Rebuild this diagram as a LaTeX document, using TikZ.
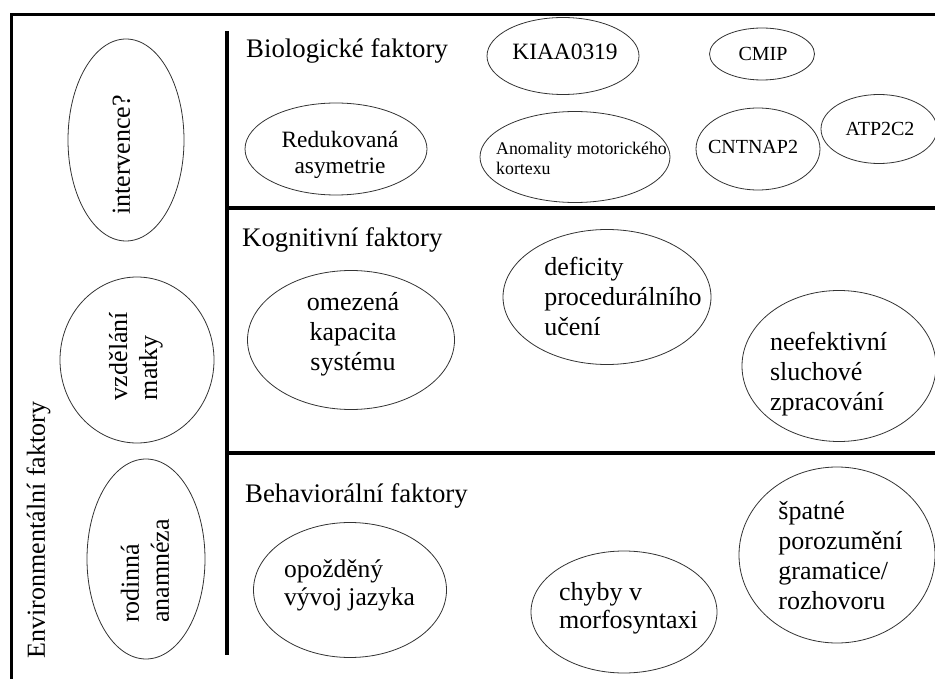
\documentclass[tikz,border=0pt]{standalone}
\usepackage{fontspec}
\setmainfont{Liberation Serif}
\usetikzlibrary{shapes.geometric, positioning}

\begin{document}
\begin{tikzpicture}[
    x=1pt, y=-1pt,
    oval/.style={ellipse, draw=black!80, line width=0.8pt, inner sep=0pt},
    txt/.style={inner sep=0pt, align=center, font=\fontsize{26}{30}\selectfont},
    small/.style={inner sep=0pt, align=center, font=\fontsize{23.4}{26}\selectfont},
    tiny/.style={inner sep=0pt, align=left, font=\fontsize{20}{22}\selectfont},
    head/.style={inner sep=0pt, anchor=base west, font=\fontsize{26.8}{30}\selectfont},
    frame/.style={line width=3pt},
    divider/.style={line width=4.5pt}
]
\useasboundingbox (0,0) rectangle (935,679);

% === Frame ===
\coordinate (corner) at (11,15);
\draw[frame] (11,679) -- (corner) -- (935,15);
\draw[divider] (227,31) -- (227,655);
\draw[divider] (227,208) -- (935,208);
\draw[divider] (227,453) -- (935,453);

% === Environmental factors (left) ===
\node[txt, rotate=90, anchor=base] (env) at (45,530) {Environmentální faktory};

\node[oval, minimum width=116, minimum height=202] (interv) at (126,140) {};
\node[txt, rotate=90] (interv-t) at (121.5,155) {intervence?};

\node[oval, minimum width=154, minimum height=166] (matka) at (137,360) {};
\node[txt, rotate=90, align=left] (matka-t) at (136,356) {vzdělání\\matky};

\node[oval, minimum width=118, minimum height=200] (rodina) at (146,559) {};
\node[txt, rotate=90, align=left] (rodina-t) at (145,571) {rodinná\\anamnéza};

% === Biological factors ===
\node[head] (bio) at (246,58) {Biologické faktory};

\node[oval, minimum width=182, minimum height=92] (asym) at (336,149) {};
\node[small] (asym-t) at (340,154.5) {Redukovaná\\asymetrie};

\node[oval, minimum width=152, minimum height=77] (kiaa) at (563,56) {};
\node[small] (kiaa-t) at (565,52) {KIAA0319};

\node[oval, minimum width=105, minimum height=52] (cmip) at (762,54) {};
\node[tiny] (cmip-t) at (763,54) {CMIP};

\node[oval, minimum width=190, minimum height=91] (motor) at (575,157) {};
\node[inner sep=0pt, align=left, font=\fontsize{17.8}{20}\selectfont] (motor-t) at (581.5,158.5) {Anomality motorického\\kortexu};

\node[oval, minimum width=124, minimum height=82] (cntnap) at (758,149) {};
\node[tiny] (cntnap-t) at (753,147) {CNTNAP2};

\node[oval, minimum width=116, minimum height=69] (atp) at (879,129) {};
\node[tiny] (atp-t) at (880,128.5) {ATP2C2};

% === Cognitive factors ===
\node[head] (kog) at (242,247) {Kognitivní faktory};

\node[oval, minimum width=207, minimum height=139] (kapac) at (351,340) {};
\node[txt] (kapac-t) at (353,334) {omezená\\kapacita\\systému};

\node[oval, minimum width=208, minimum height=135] (proced) at (607,297) {};
\node[txt, align=left] (proced-t) at (623,296) {deficity\\procedurálního\\učení};

\node[oval, minimum width=194, minimum height=151] (sluch) at (839,366) {};
\node[txt, align=left] (sluch-t) at (828.5,374) {neefektivní\\sluchové\\zpracování};

% === Behavioural factors ===
\node[head] (beh) at (245,502) {Behaviorální faktory};

\node[oval, minimum width=193, minimum height=135] (jazyk) at (350,590) {};
\node[txt, align=left, font=\fontsize{25.5}{28}\selectfont] (jazyk-t) at (349.5,585) {opožděný\\vývoj jazyka};

\node[oval, minimum width=186, minimum height=122] (morfo) at (624,612) {};
\node[txt, align=left, font=\fontsize{26}{28}\selectfont] (morfo-t) at (628.5,608) {chyby v\\morfosyntaxi};

\node[oval, minimum width=196, minimum height=176] (gramat) at (837,555) {};
\node[txt, align=left] (gramat-t) at (840.5,556) {špatné\\porozumění\\gramatice/\\rozhovoru};

\end{tikzpicture}
\end{document}
